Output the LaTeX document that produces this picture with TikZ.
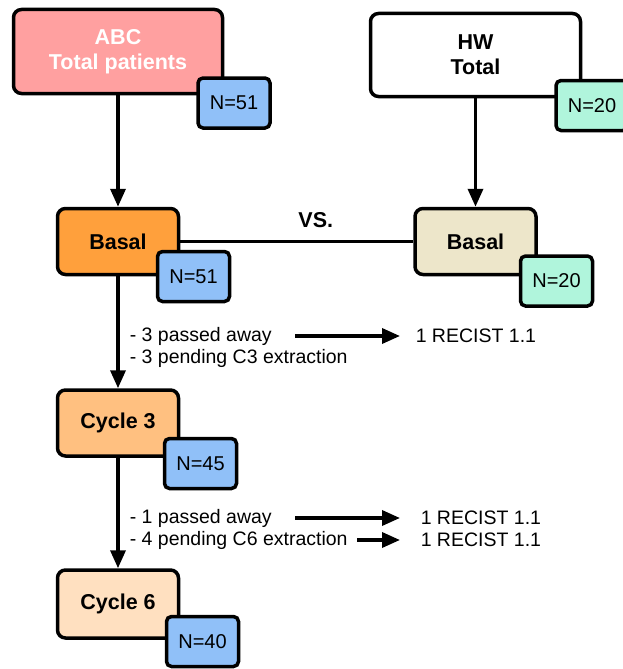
\documentclass[tikz,border=0pt]{standalone}
\usepackage{fontspec}
\setmainfont{Liberation Sans}
\usepackage{xcolor}
\usepackage{tikz}
\usetikzlibrary{arrows.meta}
\usetikzlibrary{shapes,arrows,positioning}
\tikzset{>={Triangle[length=18pt,width=15pt]}}
\definecolor{abcpink}{RGB}{255,160,160}
\definecolor{nblue}{RGB}{144,192,248}
\definecolor{nmint}{RGB}{176,245,220}
\definecolor{basalorange}{RGB}{255,160,60}
\definecolor{cyclethree}{RGB}{255,192,128}
\definecolor{cyclesix}{RGB}{255,224,192}
\definecolor{hwbeige}{RGB}{237,230,202}

\begin{document}
\begin{tikzpicture}[x=1pt, y=1pt, line width=3.5pt,
    box/.style={draw, rounded corners=8pt, minimum width=121pt, minimum height=66pt, inner sep=0pt, align=center, font=\fontsize{21.5}{25}\selectfont\bfseries},
    badge/.style={draw, rounded corners=5pt, minimum width=72pt, minimum height=50pt, inner sep=0pt, font=\fontsize{20}{24}\selectfont},
    note/.style={inner sep=0pt, anchor=west, font=\fontsize{19.5}{22}\selectfont}]
            \useasboundingbox (0,0) rectangle (622,-669);
            \node[box, fill=abcpink, text=white, minimum width=209pt, minimum height=84pt] (abc-total) at (118,-51.5) {ABC\\Total patients};
            \node[box, fill=white, minimum width=210pt, minimum height=83pt] (hw-total) at (475.5,-55) {HW\\Total};
            \node[box, fill=basalorange] (abc-basal) at (118,-241.5) {Basal};
            \node[box, fill=hwbeige] (hw-basal) at (475.5,-241.5) {Basal};
            \node[box, fill=cyclethree] (cycle-3) at (118,-423) {Cycle 3};
            \node[box, fill=cyclesix, minimum height=68pt] (cycle-6) at (118,-604) {Cycle 6};
            \draw[->] (abc-total) -- (abc-basal);
            \draw[->] (hw-total) -- (hw-basal);
            \draw[->] (abc-basal) -- (cycle-3);
            \draw[->] (cycle-3) -- (cycle-6);
            \draw (abc-basal.east) -- (hw-basal.west) node[midway, above=9pt, xshift=19pt, font=\fontsize{21.5}{25}\selectfont\bfseries] (vs) {VS.};
            \node[badge, fill=nblue] (abc-total-n) at (234,-103) {N=51};
            \node[badge, fill=nmint] (hw-total-n) at (592,-105.5) {N=20};
            \node[badge, fill=nblue] (abc-basal-n) at (193.5,-276.5) {N=51};
            \node[badge, fill=nmint] (hw-basal-n) at (556.5,-281) {N=20};
            \node[badge, fill=nblue] (cycle-3-n) at (200.5,-463.5) {N=45};
            \node[badge, fill=nblue] (cycle-6-n) at (202.5,-641.5) {N=40};
            \node[note] (died-c3) at (128,-336) {- 3 passed away};
            \node[note] (pending-c3) at (128,-358) {- 3 pending C3 extraction};
            \node[note] (recist-c3) at (414,-336) {1 RECIST 1.1};
            \node[note] (died-c6) at (128,-518) {- 1 passed away};
            \node[note] (pending-c6) at (128,-540) {- 4 pending C6 extraction};
            \node[note] (recist-died-c6) at (419,-518) {1 RECIST 1.1};
            \node[note] (recist-pending-c6) at (419,-540) {1 RECIST 1.1};
            \coordinate (died-c3-start) at (295,-336);
            \coordinate[left=14pt of recist-c3.west] (died-c3-end);
            \coordinate (died-c6-start) at (295,-518);
            \coordinate[left=19pt of recist-died-c6.west] (died-c6-end);
            \coordinate[right=8pt of pending-c6.east] (pending-c6-start);
            \coordinate[left=19pt of recist-pending-c6.west] (pending-c6-end);
            \draw[->] (died-c3-start) -- (died-c3-end);
            \draw[->] (died-c6-start) -- (died-c6-end);
            \draw[->] (pending-c6-start) -- (pending-c6-end);
        \end{tikzpicture}
\end{document}
